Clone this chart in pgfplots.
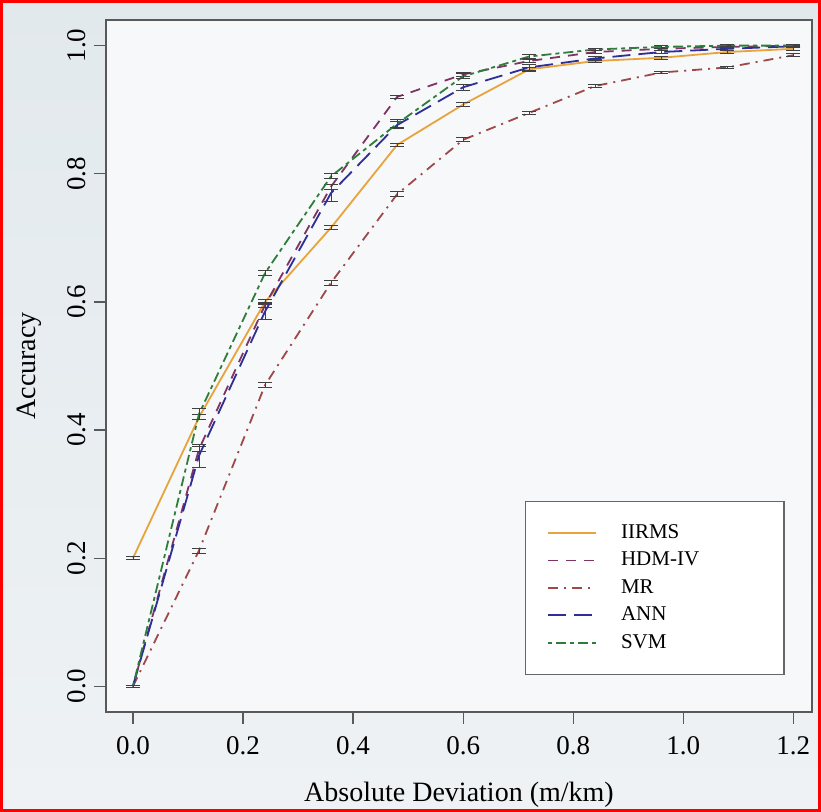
\documentclass[border=0pt]{standalone}
\usepackage{pgfplots}
\pgfplotsset{compat=1.18}
\usepackage{fontspec}
\setmainfont{Liberation Serif}

\definecolor{cIIRMS}{RGB}{232,163,60}
\definecolor{cHDM}{RGB}{128,52,100}
\definecolor{cMR}{RGB}{160,72,72}
\definecolor{cANN}{RGB}{46,46,150}
\definecolor{cSVM}{RGB}{46,125,58}
\definecolor{slidebg}{RGB}{226,233,237}
\definecolor{plotbg}{RGB}{246,248,249}

\pgfplotsset{
  errs/.style={
    /pgfplots/error bars/y dir=both,
    /pgfplots/error bars/y explicit,
    /pgfplots/error bars/error bar style={black!75, solid, line width=0.45pt},
    /pgfplots/error bars/error mark options={rotate=90, mark size=3.5pt, black!75, solid, line width=0.45pt}},
}

\begin{document}
\begin{tikzpicture}
\useasboundingbox (-53pt,-50pt) rectangle (357.5pt,356pt);
\shade[top color=slidebg, bottom color=plotbg!60!slidebg] (-53pt,-50pt) rectangle (357.5pt,356pt);
\draw[red, line width=1.4pt] (-52.3pt,-49.3pt) rectangle (356.8pt,355.3pt);
\begin{axis}[
  at={(0,0)}, anchor=south west,
  scale only axis,
  width=353pt, height=346pt,
  xmin=-0.049, xmax=1.234,
  ymin=-0.04, ymax=1.04,
  xtick={0,0.2,...,1.2},
  ytick={0,0.2,...,1.0},
  axis background/.style={fill=plotbg},
  axis line style={black!65, line width=0.7pt},
  tick style={black!65, line width=0.6pt},
  tick align=outside,
  major tick length=6pt,
  xtick pos=bottom, ytick pos=left,
  /pgf/number format/.cd, fixed, fixed zerofill, precision=1, assume math mode=true,
  /pgfplots/.cd,
  tick label style={font=\fontsize{13.5}{15}\selectfont},
  xticklabel style={anchor=north, inner sep=0pt, yshift=-6pt},
  yticklabel style={rotate=90, anchor=south, inner sep=0pt, yshift=4pt},
  xlabel={Absolute Deviation (m/km)},
  ylabel={Accuracy},
  label style={font=\fontsize{14}{16}\selectfont},
  xlabel style={at={(axis description cs:0.5,-0.130)}, anchor=base},
  ylabel style={at={(axis description cs:-0.108,0.5)}, anchor=center},
  legend style={at={(axis description cs:0.593,0.305)}, anchor=north west,
    draw=black!60, fill=white, line width=0.6pt, inner xsep=11pt, inner ysep=9pt,
    font=\fontsize{10.5}{12}\selectfont, row sep=0.2pt,
    nodes={text width=58.5pt, align=left, inner xsep=12pt, text height=7.5pt, text depth=2pt}},
  legend cell align=left,
  legend image code/.code={\draw[#1] (0pt,0pt) -- (24pt,0pt);},
  every axis plot/.append style={line width=0.9pt},
]
\addplot[cIIRMS, solid, errs] coordinates {
(0,0.200) +- (0,0.002)
(0.12,0.420) +- (0,0.004)
(0.24,0.600) +- (0,0.004)
(0.36,0.716) +- (0,0.003)
(0.48,0.845) +- (0,0.003)
(0.60,0.908) +- (0,0.003)
(0.72,0.963) +- (0,0.003)
(0.84,0.976) +- (0,0.002)
(0.96,0.981) +- (0,0.002)
(1.08,0.990) +- (0,0.002)
(1.20,0.995) +- (0,0.002)
};
\addlegendentry{IIRMS}
\addplot[cHDM, dash pattern=on 5pt off 4pt, errs] coordinates {
(0,0.000) +- (0,0.002)
(0.12,0.370) +- (0,0.004)
(0.24,0.595) +- (0,0.004)
(0.36,0.780) +- (0,0.004)
(0.48,0.920) +- (0,0.003)
(0.60,0.955) +- (0,0.003)
(0.72,0.976) +- (0,0.002)
(0.84,0.990) +- (0,0.002)
(0.96,0.995) +- (0,0.002)
(1.08,0.998) +- (0,0.002)
(1.20,1.000) +- (0,0.002)
};
\addlegendentry{HDM-IV}
\addplot[cMR, dash pattern=on 5pt off 3pt on 1pt off 3pt, errs] coordinates {
(0,0.000) +- (0,0.002)
(0.12,0.212) +- (0,0.004)
(0.24,0.470) +- (0,0.004)
(0.36,0.630) +- (0,0.004)
(0.48,0.768) +- (0,0.004)
(0.60,0.853) +- (0,0.003)
(0.72,0.895) +- (0,0.003)
(0.84,0.937) +- (0,0.003)
(0.96,0.958) +- (0,0.002)
(1.08,0.966) +- (0,0.002)
(1.20,0.985) +- (0,0.002)
};
\addlegendentry{MR}
\addplot[cANN, dash pattern=on 9pt off 4pt, errs] coordinates {
(0,0.000) +- (0,0.002)
(0.12,0.360) +- (0,0.018)
(0.24,0.585) +- (0,0.012)
(0.36,0.770) +- (0,0.013)
(0.48,0.876) +- (0,0.006)
(0.60,0.935) +- (0,0.005)
(0.72,0.966) +- (0,0.004)
(0.84,0.980) +- (0,0.003)
(0.96,0.990) +- (0,0.002)
(1.08,0.995) +- (0,0.002)
(1.20,0.999) +- (0,0.002)
};
\addlegendentry{ANN}
\addplot[cSVM, dash pattern=on 2pt off 2pt on 5pt off 2pt, errs] coordinates {
(0,0.000) +- (0,0.002)
(0.12,0.425) +- (0,0.008)
(0.24,0.645) +- (0,0.004)
(0.36,0.796) +- (0,0.004)
(0.48,0.878) +- (0,0.006)
(0.60,0.952) +- (0,0.004)
(0.72,0.983) +- (0,0.003)
(0.84,0.994) +- (0,0.002)
(0.96,0.998) +- (0,0.002)
(1.08,1.000) +- (0,0.002)
(1.20,1.000) +- (0,0.002)
};
\addlegendentry{SVM}
\end{axis}
\end{tikzpicture}
\end{document}
